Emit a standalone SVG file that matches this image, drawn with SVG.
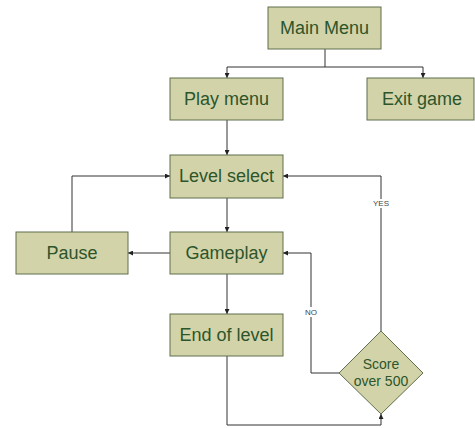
<svg xmlns="http://www.w3.org/2000/svg" width="475" height="428" viewBox="0 0 475 428">
<defs>
<marker id="arr" viewBox="0 0 10 10" refX="10" refY="5" markerWidth="5" markerHeight="5" orient="auto" markerUnits="userSpaceOnUse">
<path d="M0,0 L10,5 L0,10 z" fill="#222"/>
</marker>
</defs>
<style>
.box{fill:#d3d3a9;stroke:#5f6f4c;stroke-width:1}
.t{font-family:"Liberation Sans",Arial,sans-serif;font-size:18px;fill:#2d552b;text-anchor:middle;dominant-baseline:central}
.ts{font-family:"Liberation Sans",Arial,sans-serif;font-size:14px;fill:#2d552b;text-anchor:middle;dominant-baseline:central}
.c{fill:none;stroke:#333;stroke-width:1}
.lbl{font-family:"Liberation Sans",Arial,sans-serif;font-size:8px;fill:#444;text-anchor:middle;dominant-baseline:central}
</style>
<rect width="475" height="428" fill="#fff"/>
<g id="connectors">
<path class="c" d="M325,49 V67 H227 V78" marker-end="url(#arr)"/>
<path class="c" d="M325,67 H423 V78" marker-end="url(#arr)"/>
<path class="c" d="M227,120 V155" marker-end="url(#arr)"/>
<path class="c" d="M227,198 V232" marker-end="url(#arr)"/>
<path class="c" d="M170,253 H128" marker-end="url(#arr)"/>
<path class="c" d="M72,232 V176 H170" marker-end="url(#arr)"/>
<path class="c" d="M227,274 V314" marker-end="url(#arr)"/>
<path class="c" d="M227,356 V425 H381 V414" marker-end="url(#arr)"/>
<path class="c" d="M339,373 H311 V253 H283" marker-end="url(#arr)"/>
<path class="c" d="M381,331 V176 H283" marker-end="url(#arr)"/>
<rect x="372" y="199" width="18" height="9" fill="#fff"/>
<text class="lbl" x="381" y="203.5">YES</text>
<rect x="302" y="307" width="18" height="10" fill="#fff"/>
<text class="lbl" x="311" y="312">NO</text>
</g>
<g id="main-menu"><rect class="box" x="268" y="7" width="113" height="42"/><text class="t" x="324.5" y="28">Main Menu</text></g>
<g id="play-menu"><rect class="box" x="170" y="78" width="113" height="42"/><text class="t" x="226.5" y="99">Play menu</text></g>
<g id="exit-game"><rect class="box" x="367" y="78" width="107" height="42"/><text class="t" x="422" y="99">Exit game</text></g>
<g id="level-select"><rect class="box" x="170" y="155" width="113" height="43"/><text class="t" x="226.5" y="176">Level select</text></g>
<g id="pause"><rect class="box" x="16" y="232" width="112" height="42"/><text class="t" x="72" y="253">Pause</text></g>
<g id="gameplay"><rect class="box" x="170" y="232" width="113" height="42"/><text class="t" x="226.5" y="253">Gameplay</text></g>
<g id="end-of-level"><rect class="box" x="170" y="314" width="113" height="42"/><text class="t" x="226.5" y="335">End of level</text></g>
<g id="score"><polygon class="box" points="381,331 423,373 381,414 339,373"/><text class="ts" x="381" y="364">Score</text><text class="ts" x="381" y="381">over 500</text></g>
</svg>
